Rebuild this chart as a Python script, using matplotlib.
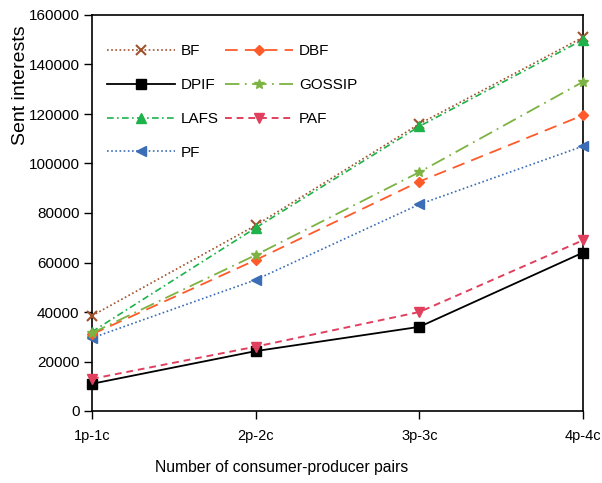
import matplotlib
matplotlib.use("Agg")
import matplotlib.pyplot as plt

categories = ["1p-1c", "2p-2c", "3p-3c", "4p-4c"]
bf = [38500, 75000, 116000, 151000]
dbf = [31000, 61000, 92700, 119500]
dpif = [11000, 24200, 34000, 64000]
gossip = [31500, 63000, 96500, 133000]
lafs = [32000, 74000, 115000, 150000]
paf = [13000, 26000, 40000, 69000]
pf = [29500, 53000, 83500, 107000]
yticks = [0, 20000, 40000, 60000, 80000, 100000, 120000, 140000, 160000]

plt.rcParams["font.family"] = ["Liberation Sans", "DejaVu Sans"]

fig = plt.figure(figsize=(6.02, 4.83), dpi=100)
ax = fig.add_axes([92 / 602, 1 - 411 / 483, (583 - 92) / 602, (411 - 15) / 483])

x = list(range(len(categories)))
ms = 6.5
series = [
    ("BF", bf, "#a0522d", (0, (1, 1.5)), "x", 1.2),
    ("DPIF", dpif, "#000000", "-", "s", 1.3),
    ("LAFS", lafs, "#1db34a", (0, (4, 2, 1, 2)), "^", 1.2),
    ("PF", pf, "#3a6db5", (0, (1, 1.5)), "<", 1.2),
    ("DBF", dbf, "#ff5a2a", (0, (7, 4)), "D", 1.3),
    ("GOSSIP", gossip, "#7cb342", (0, (8, 3, 1, 3)), "*", 1.3),
    ("PAF", paf, "#e0405e", (0, (3.5, 2.5)), "v", 1.4),
]
for name, vals, col, ls, mk, lw in series:
    size = ms * 0.8 if mk == "D" else (ms * 1.2 if mk == "*" else ms)
    ax.plot(x, vals, color=col, linestyle=ls, linewidth=lw, marker=mk,
            markersize=size, markeredgewidth=1.5 if mk == "x" else 1.0,
            label=name, clip_on=False, zorder=3)

ax.set_xlim(0, 3)
ax.set_ylim(0, 160000)
ax.set_xticks(x)
ax.set_xticklabels(categories, fontsize=10.5)
ax.set_yticks(yticks)
ax.set_yticklabels([str(v) for v in yticks], fontsize=11)
ax.tick_params(axis="x", direction="out", length=6, width=1.0, pad=7)
ax.tick_params(axis="y", direction="out", length=6, width=1.0, pad=3)
for s in ax.spines.values():
    s.set_linewidth(1.2)
ax.set_xlabel("Number of consumer-producer pairs", fontsize=11.3)
ax.xaxis.set_label_coords(0.387, -0.123)
ax.set_ylabel("Sent interests", fontsize=14)
ax.yaxis.set_label_coords(-0.145, 0.823)
ax.yaxis.label.set_va("center")

ax.legend(ncol=2, loc="upper left", frameon=False, fontsize=11,
          handlelength=4.4, handletextpad=0.4, columnspacing=0.45,
          labelspacing=1.3, bbox_to_anchor=(0.0, 0.965), borderaxespad=0.6)

fig.savefig("out.png", dpi=100)
